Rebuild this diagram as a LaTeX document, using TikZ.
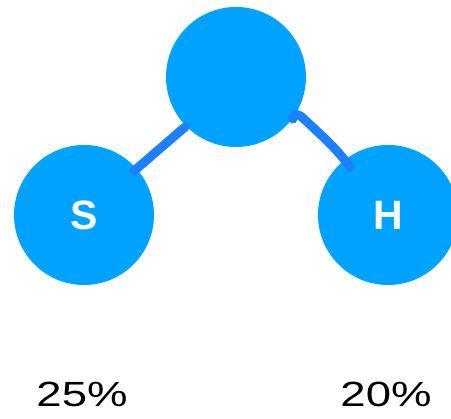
\documentclass[tikz,border=0pt]{standalone}
\usepackage{graphicx}
\usepackage{fontspec}
\setmainfont{Liberation Sans}
\definecolor{ballblue}{RGB}{0,162,255}
\definecolor{bondblue}{RGB}{28,128,252}
\begin{document}
\begin{tikzpicture}[x=1pt,y=-1pt,
  atom/.style={circle,fill=ballblue,draw=none,minimum size=140pt,inner sep=0pt,text=white,font=\fontsize{41}{41}\selectfont\bfseries},
  bond/.style={draw=bondblue,line width=9pt,line cap=round,line join=round},
  pct/.style={font=\fontsize{35}{35}\selectfont,text=black,inner sep=0pt,anchor=base}]
\useasboundingbox (0,0) rectangle (451,419);
\clip (0,0) rectangle (451,419);
\node[atom] (top) at (236,77) {};
\node[atom] (s) at (84,215) {S};
\node[atom] (h) at (388,215) {H};
\coordinate (l1) at (134,171);
\coordinate (l2) at (185,127);
\coordinate (r1) at (293,119);
\coordinate (r2) at (350,167);
\path[bond] (l1) -- (l2);
\path[bond] (r1) .. controls (293,113) and (298,113) .. (304,119) .. controls (320,134) and (338,150) .. (r2);
\node[pct] (p1) at (82,407) {\scalebox{1.3}[1]{25\%}};
\node[pct] (p2) at (386,407) {\scalebox{1.3}[1]{20\%}};
\end{tikzpicture}
\end{document}
